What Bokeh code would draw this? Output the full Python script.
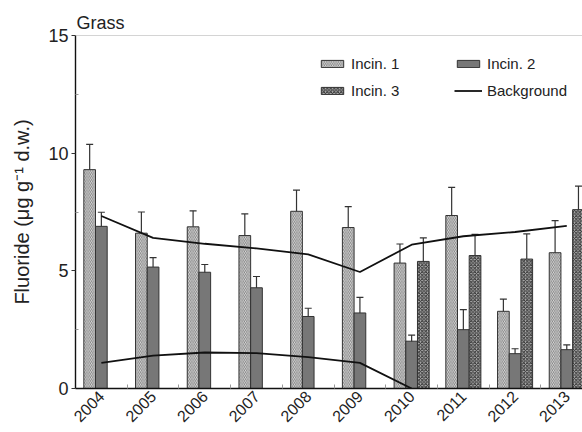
from bokeh.plotting import figure
from bokeh.models import (ColumnDataSource, Whisker, TeeHead, FixedTicker, Legend,
                          LegendItem, Span, Range1d)
from bokeh.transform import dodge
from bokeh.embed import file_html
from bokeh.resources import INLINE
from math import pi

# ---------------- data ----------------
years = ["2004", "2005", "2006", "2007", "2008", "2009", "2010", "2011", "2012", "2013"]
incin1 = [9.30, 6.60, 6.87, 6.50, 7.53, 6.84, 5.33, 7.35, 3.28, 5.77]
incin1_err = [1.07, 0.90, 0.68, 0.92, 0.90, 0.89, 0.81, 1.20, 0.52, 1.36]
incin2 = [6.89, 5.16, 4.94, 4.28, 3.06, 3.21, 2.01, 2.50, 1.48, 1.65]
incin2_err = [0.60, 0.40, 0.33, 0.48, 0.35, 0.66, 0.26, 0.85, 0.21, 0.20]
incin3_years = ["2010", "2011", "2012", "2013"]
incin3 = [5.40, 5.65, 5.50, 7.60]
incin3_err = [1.00, 0.90, 1.07, 1.00]
bg_upper = [7.33, 6.40, 6.15, 5.95, 5.70, 4.95, 6.11, 6.47, 6.65, 6.91]
bg_lower_years = ["2004", "2005", "2006", "2007", "2008", "2009", "2010"]
bg_lower = [1.09, 1.40, 1.53, 1.50, 1.33, 1.09, 0.00]

FONT = "Liberation Sans"
BW = 0.226

idx = list(range(len(years)))
idx3 = [years.index(y) for y in incin3_years]
idxl = [years.index(y) for y in bg_lower_years]

s1 = ColumnDataSource(dict(x=idx, top=incin1,
                           lo=[v - e for v, e in zip(incin1, incin1_err)],
                           hi=[v + e for v, e in zip(incin1, incin1_err)]))
s2 = ColumnDataSource(dict(x=idx, top=incin2,
                           lo=[v - e for v, e in zip(incin2, incin2_err)],
                           hi=[v + e for v, e in zip(incin2, incin2_err)]))
s3 = ColumnDataSource(dict(x=idx3, top=incin3,
                           lo=[v - e for v, e in zip(incin3, incin3_err)],
                           hi=[v + e for v, e in zip(incin3, incin3_err)]))

p = figure(width=582, height=432, x_range=Range1d(-0.5, 9.304), y_range=Range1d(0, 15),
           output_backend="svg", toolbar_location=None,
           min_border_left=75, min_border_right=0, min_border_top=35, min_border_bottom=44)
p.outline_line_color = None
p.background_fill_color = "white"
p.border_fill_color = "white"
p.xgrid.visible = False
p.ygrid.visible = False

p.title.text = "Grass"
p.title.text_font = FONT
p.title.text_font_size = "18px"
p.title.text_font_style = "normal"
p.title.text_color = "#222222"
p.title.standoff = 5
p.title.offset = 1

# top frame line (gray)
p.add_layout(Span(location=15, dimension="width", line_color="#aaaaaa", line_width=1))

bar_kw = dict(bottom=0, width=BW, line_color="#333333", line_width=1)
r1 = p.vbar(x=dodge("x", -BW, range=None), top="top", source=s1,
            fill_color="#e0e0e0", hatch_pattern="\\", hatch_color="#6a6a6a",
            hatch_scale=3.5, hatch_weight=0.8, **bar_kw)
r2 = p.vbar(x="x", top="top", source=s2, fill_color="#777777", **bar_kw)
r3 = p.vbar(x=dodge("x", BW, range=None), top="top", source=s3,
            fill_color="#b0b0b0", hatch_pattern="x", hatch_color="#303030",
            hatch_scale=3.5, hatch_weight=1.0, **bar_kw)

for src, off in ((s1, -BW), (s2, 0), (s3, BW)):
    w = Whisker(source=src, base=dodge("x", off, range=None), upper="hi", lower="lo",
                line_color="#333333", line_width=1.2,
                upper_head=TeeHead(size=7, line_color="#333333", line_width=1.2),
                lower_head=TeeHead(size=7, line_color="#333333", line_width=1.2))
    p.add_layout(w)

rl1 = p.line(idx, bg_upper, line_color="#111111", line_width=1.8)
rl2 = p.line(idxl, bg_lower, line_color="#111111", line_width=1.8)

# axes
p.xaxis.ticker = FixedTicker(ticks=idx, minor_ticks=[i + 0.5 for i in range(-1, 10)])
p.xaxis.major_label_overrides = {i: y for i, y in zip(idx, years)}
p.xaxis.major_label_orientation = pi / 4
p.xaxis.major_tick_line_color = None
p.xaxis.major_tick_in = 0
p.xaxis.major_tick_out = 0
p.xaxis.minor_tick_in = 4
p.xaxis.minor_tick_out = 0
p.xaxis.minor_tick_line_color = "#999999"
p.xaxis.axis_line_color = "#111111"
p.xaxis.axis_line_width = 1.6
p.xaxis.major_label_text_font = FONT
p.xaxis.major_label_text_font_size = "16px"
p.xaxis.major_label_text_color = "#222222"
p.xaxis.major_label_standoff = 5

p.yaxis.ticker = FixedTicker(ticks=[0, 5, 10, 15], minor_ticks=[2.5, 7.5, 12.5])
p.yaxis.major_tick_in = 0
p.yaxis.major_tick_out = 4
p.yaxis.major_tick_line_color = "#333333"
p.yaxis.minor_tick_in = 3
p.yaxis.minor_tick_out = 0
p.yaxis.minor_tick_line_color = "#999999"
p.yaxis.axis_line_color = "#111111"
p.yaxis.axis_line_width = 1.4
p.yaxis.major_label_text_font = FONT
p.yaxis.major_label_text_font_size = "18px"
p.yaxis.major_label_text_color = "#222222"
p.yaxis.major_label_standoff = 3
p.yaxis.axis_label = "Fluoride (\u03bcg g\u207b\u00b9 d.w.)"
p.yaxis.axis_label_text_font = FONT
p.yaxis.axis_label_text_font_size = "20px"
p.yaxis.axis_label_text_font_style = "normal"
p.yaxis.axis_label_text_color = "#222222"
p.yaxis.axis_label_standoff = 12

leg_kw = dict(border_line_color=None, background_fill_alpha=0, padding=0, margin=0,
              spacing=10, glyph_width=28, glyph_height=9, label_height=17,
              label_text_font=FONT, label_text_font_size="15px",
              label_text_color="#222222", label_standoff=5)
leg1 = Legend(items=[LegendItem(label="Incin. 1", renderers=[r1]),
                     LegendItem(label="Incin. 3", renderers=[r3])],
              location=(243, 289), **leg_kw)
leg2 = Legend(items=[LegendItem(label="Incin. 2", renderers=[r2]),
                     LegendItem(label="Background", renderers=[rl1])],
              location=(379, 289), **leg_kw)
p.add_layout(leg1)
p.add_layout(leg2)

open("out.html", "w").write(file_html(p, INLINE))
